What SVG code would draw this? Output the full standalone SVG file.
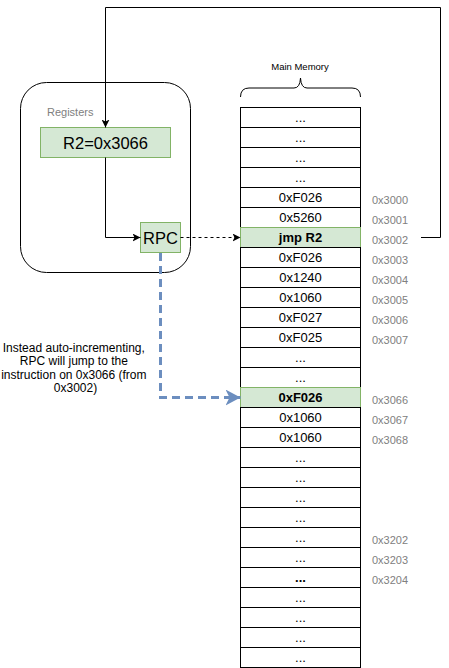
<svg xmlns="http://www.w3.org/2000/svg" width="449" height="668" viewBox="0 0 449 668">
<style>
text{font-family:"Liberation Sans",Arial,Helvetica,sans-serif;}
.cell{fill:#ffffff;stroke:#000000;stroke-width:1;}
.hot{fill:#d5e8d4;stroke:#82b366;stroke-width:1;}
.v{font-size:13px;fill:#000;text-anchor:middle;}
.b{font-weight:bold;}
.addr{font-size:11px;fill:#808080;}
.big{font-size:16.5px;fill:#000;text-anchor:middle;}
.line{fill:none;stroke:#000;stroke-width:1;}
</style>
<defs>
<marker id="ab" markerUnits="userSpaceOnUse" viewBox="0 0 8 8" markerWidth="8" markerHeight="8" refX="8" refY="4" orient="auto">
<path d="M0,0 L8,4 L0,8 L2,4 z" fill="#000"/>
</marker>
<marker id="abl" markerUnits="userSpaceOnUse" viewBox="0 0 15 16" markerWidth="15" markerHeight="16" refX="15" refY="8" orient="auto">
<path d="M0,0 L15,8 L0,16 L4,8 z" fill="#6c8ebf"/>
</marker>
</defs>

<g id="main-memory-label">
<text x="300" y="70" font-size="9.5" text-anchor="middle" fill="#000">Main Memory</text>
<path class="line" d="M240.5,97 Q240.5,88 249,88 H294 Q300,88 300.5,78 Q301,88 307,88 H352 Q360.5,88 360.5,97"/>
</g>

<g id="registers">
<rect x="20.5" y="82.5" width="170" height="190" rx="26" ry="26" fill="#fff" stroke="#000" stroke-width="1"/>
<text x="47" y="116" font-size="11" fill="#808080">Registers</text>
</g>

<g id="r2">
<rect x="40.5" y="127.5" width="130" height="30" class="hot"/>
<text x="105.5" y="148.5" class="big">R2=0x3066</text>
</g>

<g id="rpc">
<rect x="140.5" y="222.5" width="40" height="30" class="hot"/>
<text x="160.5" y="243.5" class="big">RPC</text>
</g>

<g id="memory">
<g id="m0"><rect class="cell" x="240.5" y="107.5" width="120" height="20"/><text class="v" x="300.5" y="122">...</text></g>
<g id="m1"><rect class="cell" x="240.5" y="127.5" width="120" height="20"/><text class="v" x="300.5" y="142">...</text></g>
<g id="m2"><rect class="cell" x="240.5" y="147.5" width="120" height="20"/><text class="v" x="300.5" y="162">...</text></g>
<g id="m3"><rect class="cell" x="240.5" y="167.5" width="120" height="20"/><text class="v" x="300.5" y="182">...</text></g>
<g id="m4"><rect class="cell" x="240.5" y="187.5" width="120" height="20"/><text class="v" x="300.5" y="202">0xF026</text></g>
<g id="m5"><rect class="cell" x="240.5" y="207.5" width="120" height="20"/><text class="v" x="300.5" y="222">0x5260</text></g>
<g id="m6"><rect class="hot" x="240.5" y="227.5" width="120" height="20"/><text class="v b" x="300.5" y="242">jmp R2</text></g>
<g id="m7"><rect class="cell" x="240.5" y="247.5" width="120" height="20"/><text class="v" x="300.5" y="262">0xF026</text></g>
<g id="m8"><rect class="cell" x="240.5" y="267.5" width="120" height="20"/><text class="v" x="300.5" y="282">0x1240</text></g>
<g id="m9"><rect class="cell" x="240.5" y="287.5" width="120" height="20"/><text class="v" x="300.5" y="302">0x1060</text></g>
<g id="m10"><rect class="cell" x="240.5" y="307.5" width="120" height="20"/><text class="v" x="300.5" y="322">0xF027</text></g>
<g id="m11"><rect class="cell" x="240.5" y="327.5" width="120" height="20"/><text class="v" x="300.5" y="342">0xF025</text></g>
<g id="m12"><rect class="cell" x="240.5" y="347.5" width="120" height="20"/><text class="v" x="300.5" y="362">...</text></g>
<g id="m13"><rect class="cell" x="240.5" y="367.5" width="120" height="20"/><text class="v" x="300.5" y="382">...</text></g>
<g id="m14"><rect class="hot" x="240.5" y="387.5" width="120" height="20"/><text class="v b" x="300.5" y="402">0xF026</text></g>
<g id="m15"><rect class="cell" x="240.5" y="407.5" width="120" height="20"/><text class="v" x="300.5" y="422">0x1060</text></g>
<g id="m16"><rect class="cell" x="240.5" y="427.5" width="120" height="20"/><text class="v" x="300.5" y="442">0x1060</text></g>
<g id="m17"><rect class="cell" x="240.5" y="447.5" width="120" height="20"/><text class="v" x="300.5" y="462">...</text></g>
<g id="m18"><rect class="cell" x="240.5" y="467.5" width="120" height="20"/><text class="v" x="300.5" y="482">...</text></g>
<g id="m19"><rect class="cell" x="240.5" y="487.5" width="120" height="20"/><text class="v" x="300.5" y="502">...</text></g>
<g id="m20"><rect class="cell" x="240.5" y="507.5" width="120" height="20"/><text class="v" x="300.5" y="522">...</text></g>
<g id="m21"><rect class="cell" x="240.5" y="527.5" width="120" height="20"/><text class="v" x="300.5" y="542">...</text></g>
<g id="m22"><rect class="cell" x="240.5" y="547.5" width="120" height="20"/><text class="v" x="300.5" y="562">...</text></g>
<g id="m23"><rect class="cell" x="240.5" y="567.5" width="120" height="20"/><text class="v b" x="300.5" y="582">...</text></g>
<g id="m24"><rect class="cell" x="240.5" y="587.5" width="120" height="20"/><text class="v" x="300.5" y="602">...</text></g>
<g id="m25"><rect class="cell" x="240.5" y="607.5" width="120" height="20"/><text class="v" x="300.5" y="622">...</text></g>
<g id="m26"><rect class="cell" x="240.5" y="627.5" width="120" height="20"/><text class="v" x="300.5" y="642">...</text></g>
<g id="m27"><rect class="cell" x="240.5" y="647.5" width="120" height="20"/><text class="v" x="300.5" y="662">...</text></g>
</g>

<g id="addresses">
<text class="addr" x="372" y="204">0x3000</text>
<text class="addr" x="372" y="224">0x3001</text>
<text class="addr" x="372" y="244">0x3002</text>
<text class="addr" x="372" y="264">0x3003</text>
<text class="addr" x="372" y="284">0x3004</text>
<text class="addr" x="372" y="304">0x3005</text>
<text class="addr" x="372" y="324">0x3006</text>
<text class="addr" x="372" y="344">0x3007</text>
<text class="addr" x="372" y="404">0x3066</text>
<text class="addr" x="372" y="424">0x3067</text>
<text class="addr" x="372" y="444">0x3068</text>
<text class="addr" x="372" y="544">0x3202</text>
<text class="addr" x="372" y="564">0x3203</text>
<text class="addr" x="372" y="584">0x3204</text>
</g>

<g id="note">
<text x="75.5" y="351.5" font-size="12" text-anchor="middle" fill="#000">
<tspan x="75.5" dy="0">Instead auto-incrementing,</tspan>
<tspan x="75.5" dy="13.5">RPC will jump to the</tspan>
<tspan x="75.5" dy="13.5">instruction on 0x3066 (from</tspan>
<tspan x="75.5" dy="13.5">0x3002)</tspan>
</text>
</g>

<g id="connectors">
<path class="line" d="M421,237.5 H440.5 V7.5 H105.5 V127.5" marker-end="url(#ab)"/>
<path class="line" d="M105.5,157.5 V237.5 H140.5" marker-end="url(#ab)"/>
<path class="line" d="M180.5,237.5 H240.5" stroke-dasharray="3 3" marker-end="url(#ab)"/>
<path d="M160.5,253 V397.5 H240.5" fill="none" stroke="#6c8ebf" stroke-width="3" stroke-dasharray="8 5" marker-end="url(#abl)"/>
</g>
</svg>
